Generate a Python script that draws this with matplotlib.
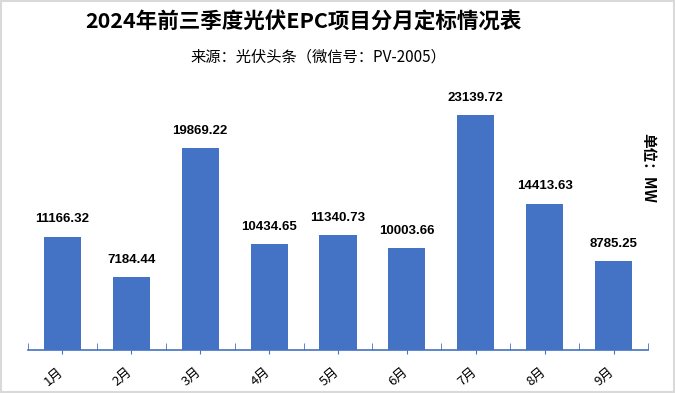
import matplotlib
matplotlib.use('Agg')
import matplotlib.pyplot as plt
from matplotlib.transforms import ScaledTranslation
import numpy as np

plt.rcParams['font.family'] = ['Liberation Sans', 'Noto Sans CJK SC', 'DejaVu Sans']

# ── data ──────────────────────────────────────
MONTHS = ["1月", "2月", "3月", "4月", "5月", "6月", "7月", "8月", "9月"]
VALUES = [11166.32, 7184.44, 19869.22, 10434.65, 11340.73,
          10003.66, 23139.72, 14413.63, 8785.25]

TITLE    = "2024年前三季度光伏EPC项目分月定标情况表"
SUBTITLE = "来源：光伏头条（微信号：PV-2005）"
UNIT     = "单位：MW"
BAR_COLOR = "#4472C4"

fig = plt.figure(figsize=(6.75, 3.93), dpi=100)
ax = fig.add_axes([0.0415, 0.1094, 0.9185, 0.6463])

x = np.arange(len(MONTHS))
bars = ax.bar(x, VALUES, width=0.54, color=BAR_COLOR)
ax.set_xlim(-0.5, len(MONTHS) - 0.5)
ax.set_ylim(0, 25000)

for bar, val in zip(bars, VALUES):
    ax.annotate(f"{val:.2f}", (bar.get_x() + bar.get_width() / 2, val),
                xytext=(0, 8), textcoords='offset points',
                ha='center', va='bottom', fontsize=9.5, fontweight='bold')

# axes styling
for side in ('top', 'right', 'left'):
    ax.spines[side].set_visible(False)
ax.spines['bottom'].set_color(BAR_COLOR)
ax.spines['bottom'].set_linewidth(1.2)
ax.set_yticks([])
ax.set_xticks(x)
ax.set_xticklabels(MONTHS, rotation=40, ha='right', rotation_mode='anchor',
                   fontsize=9.5, family=['Noto Sans CJK SC', 'DejaVu Sans'])
ax.tick_params(axis='x', which='major', direction='out', length=3,
               color=BAR_COLOR, pad=8)
ax.set_xticks(np.arange(-0.5, len(MONTHS)), minor=True)
ax.tick_params(axis='x', which='minor', direction='in', length=5,
               color=BAR_COLOR)
shift = ScaledTranslation(-5 / 100, 0, fig.dpi_scale_trans)
for lbl in ax.get_xticklabels():
    lbl.set_transform(lbl.get_transform() + shift)

# titles
cjk = ['Noto Sans CJK SC', 'DejaVu Sans']
fig.text(0.45, 0.945, TITLE, ha='center', va='center', fontsize=15.5,
         fontweight='bold', family=cjk)
fig.text(0.471, 0.855, SUBTITLE, ha='center', va='center', fontsize=11,
         family=cjk)
fig.text(0.96, 0.572, UNIT, ha='center', va='center', rotation=-90,
         fontsize=10.5, fontweight='bold', family=cjk)

# figure border
fig.patches.append(plt.Rectangle((0.002, 0.003), 0.996, 0.994,
                                 transform=fig.transFigure, fill=False,
                                 edgecolor='#D9D9D9', linewidth=1.5))

fig.savefig("out.png", dpi=100)
